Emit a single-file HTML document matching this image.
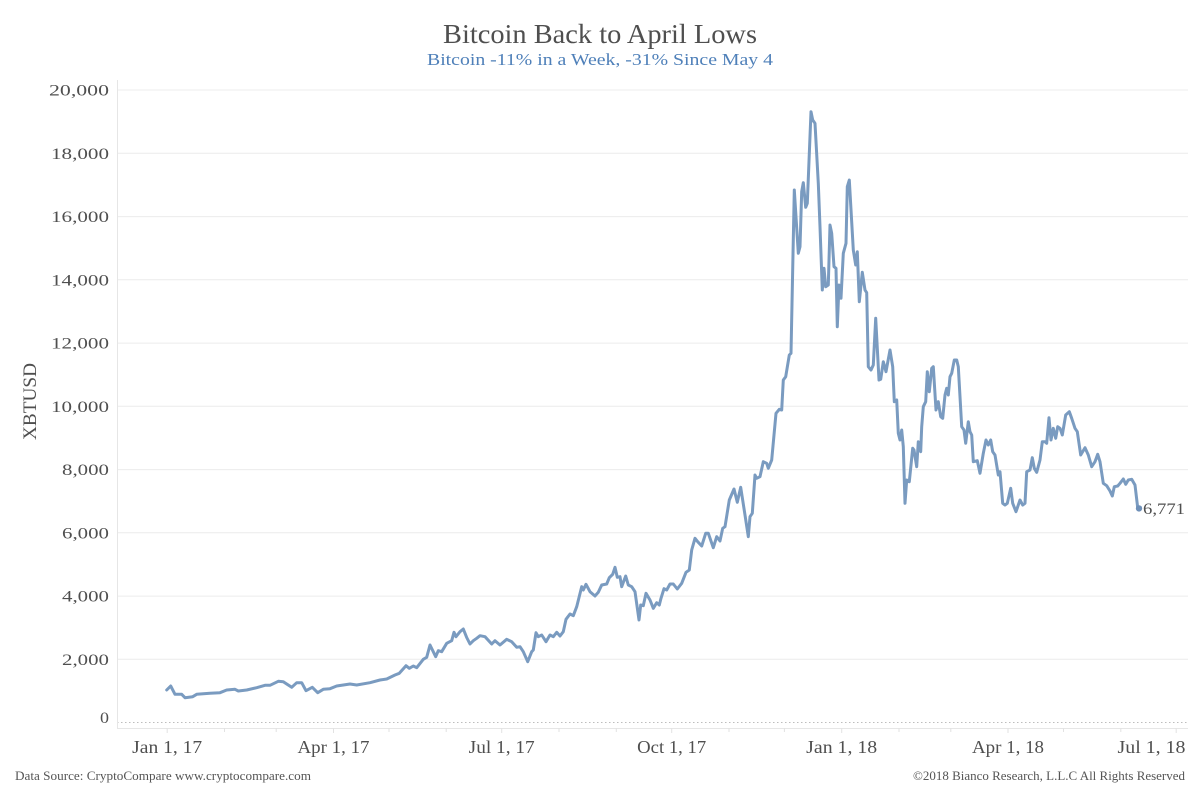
<!DOCTYPE html>
<html>
<head>
<meta charset="utf-8">
<style>
  html, body { margin:0; padding:0; background:#ffffff; }
  svg { display:block; }
  text { font-family: "Liberation Serif", "DejaVu Serif", serif; }
</style>
</head>
<body>
<svg width="1200" height="800" viewBox="0 0 1200 800" xmlns="http://www.w3.org/2000/svg">
  <rect x="0" y="0" width="1200" height="800" fill="#ffffff"/>

  <!-- Title -->
  <text x="600" y="43" text-anchor="middle" font-size="27" fill="#4f4f4f" textLength="314" lengthAdjust="spacingAndGlyphs">Bitcoin Back to April Lows</text>
  <text x="600" y="65" text-anchor="middle" font-size="16.5" fill="#4f80b9" textLength="346" lengthAdjust="spacingAndGlyphs">Bitcoin -11% in a Week, -31% Since May 4</text>

  <!-- Gridlines -->
  <g stroke="#ececec" stroke-width="1">
    <line x1="117" y1="90.0" x2="1188" y2="90.0"/>
    <line x1="117" y1="153.3" x2="1188" y2="153.3"/>
    <line x1="117" y1="216.6" x2="1188" y2="216.6"/>
    <line x1="117" y1="279.8" x2="1188" y2="279.8"/>
    <line x1="117" y1="343.1" x2="1188" y2="343.1"/>
    <line x1="117" y1="406.3" x2="1188" y2="406.3"/>
    <line x1="117" y1="469.6" x2="1188" y2="469.6"/>
    <line x1="117" y1="532.8" x2="1188" y2="532.8"/>
    <line x1="117" y1="596.1" x2="1188" y2="596.1"/>
    <line x1="117" y1="659.3" x2="1188" y2="659.3"/>
  </g>
  <!-- zero line dotted -->
  <line x1="117" y1="722.5" x2="1188" y2="722.5" stroke="#bdbdbd" stroke-width="1" stroke-dasharray="1.5,2.5"/>

  <!-- Axes borders -->
  <line x1="117.5" y1="80" x2="117.5" y2="728.5" stroke="#e6e6e6" stroke-width="1"/>
  <line x1="117" y1="728.5" x2="1188" y2="728.5" stroke="#e6e6e6" stroke-width="1"/>

  <!-- X ticks (monthly) -->
  <g stroke="#e2e2e2" stroke-width="1">
    <line x1="167.2" y1="728" x2="167.2" y2="733"/>
    <line x1="224.5" y1="728" x2="224.5" y2="732"/>
    <line x1="276.2" y1="728" x2="276.2" y2="732"/>
    <line x1="333.5" y1="728" x2="333.5" y2="733"/>
    <line x1="389.0" y1="728" x2="389.0" y2="732"/>
    <line x1="446.2" y1="728" x2="446.2" y2="732"/>
    <line x1="501.7" y1="728" x2="501.7" y2="733"/>
    <line x1="559.0" y1="728" x2="559.0" y2="732"/>
    <line x1="616.3" y1="728" x2="616.3" y2="732"/>
    <line x1="671.7" y1="728" x2="671.7" y2="733"/>
    <line x1="729.0" y1="728" x2="729.0" y2="732"/>
    <line x1="784.4" y1="728" x2="784.4" y2="732"/>
    <line x1="841.7" y1="728" x2="841.7" y2="733"/>
    <line x1="899.0" y1="728" x2="899.0" y2="732"/>
    <line x1="950.8" y1="728" x2="950.8" y2="732"/>
    <line x1="1008.0" y1="728" x2="1008.0" y2="733"/>
    <line x1="1063.5" y1="728" x2="1063.5" y2="732"/>
    <line x1="1120.8" y1="728" x2="1120.8" y2="732"/>
    <line x1="1176.2" y1="728" x2="1176.2" y2="733"/>
  </g>

  <!-- Y labels -->
  <g font-size="15.5" fill="#4f4f4f" text-anchor="end">
    <text x="109" y="95.5" textLength="60" lengthAdjust="spacingAndGlyphs">20,000</text>
    <text x="109" y="158.8" textLength="58" lengthAdjust="spacingAndGlyphs">18,000</text>
    <text x="109" y="222.1" textLength="58" lengthAdjust="spacingAndGlyphs">16,000</text>
    <text x="109" y="285.3" textLength="58" lengthAdjust="spacingAndGlyphs">14,000</text>
    <text x="109" y="348.6" textLength="58" lengthAdjust="spacingAndGlyphs">12,000</text>
    <text x="109" y="411.8" textLength="58" lengthAdjust="spacingAndGlyphs">10,000</text>
    <text x="109" y="475.1" textLength="47" lengthAdjust="spacingAndGlyphs">8,000</text>
    <text x="109" y="538.3" textLength="47" lengthAdjust="spacingAndGlyphs">6,000</text>
    <text x="109" y="601.6" textLength="47" lengthAdjust="spacingAndGlyphs">4,000</text>
    <text x="109" y="664.8" textLength="47" lengthAdjust="spacingAndGlyphs">2,000</text>
    <text x="109" y="723" textLength="9" lengthAdjust="spacingAndGlyphs">0</text>
  </g>

  <!-- Y axis title -->
  <text transform="translate(36,401.5) rotate(-90)" text-anchor="middle" font-size="19" fill="#4f4f4f" textLength="77" lengthAdjust="spacingAndGlyphs">XBTUSD</text>

  <!-- X labels -->
  <g font-size="18" fill="#4f4f4f" text-anchor="middle">
    <text x="167.2" y="753" textLength="70" lengthAdjust="spacingAndGlyphs">Jan 1, 17</text>
    <text x="333.5" y="753" textLength="72" lengthAdjust="spacingAndGlyphs">Apr 1, 17</text>
    <text x="501.7" y="753" textLength="66" lengthAdjust="spacingAndGlyphs">Jul 1, 17</text>
    <text x="671.7" y="753" textLength="69" lengthAdjust="spacingAndGlyphs">Oct 1, 17</text>
    <text x="841.7" y="753" textLength="71" lengthAdjust="spacingAndGlyphs">Jan 1, 18</text>
    <text x="1008.0" y="753" textLength="72" lengthAdjust="spacingAndGlyphs">Apr 1, 18</text>
  </g>
  <text x="1185.5" y="753" font-size="18" fill="#4f4f4f" text-anchor="end" textLength="68" lengthAdjust="spacingAndGlyphs">Jul 1, 18</text>

  <!-- Series -->
  <polyline fill="none" stroke="#7a9bc0" stroke-width="3" stroke-linejoin="round" stroke-linecap="round" points="
166.7,690 170.7,686 175,694.3 181.7,694.3 185,697.7 192.7,696.7 196.7,694.3 210,693.3 220,692.7 226.7,690 235,689.3 238.3,691 246.7,690 256.7,687.7 265,685.3 270,685.3 278.3,681.3 283.3,681.7 286.7,684 291.7,687.3 296.7,682.7 301.7,682.7 306,690.7 312.3,687.3 317.7,692.7 323.3,689.3 330,688.7 336.7,686 350,684 356.7,685 370,682.7 380,680 386.7,679 395,675 399.3,673.3 406,665.7 409.3,668.3 413.3,666 416.7,667.7 423.3,659.3 426.7,657.3 430,645 435.7,656.7 438.3,650.7 441.7,651.7 446.7,643.3 451.7,640.7 454,632.3 456,636.7 460,631.7 463.3,629 466.7,637.5 470,644
473.3,640.7 476.7,638.3 480,635.7 485,636.7 491.7,644 495,640.7 500,645 506.7,639.3 511.7,641.7 516.7,647.3 520,646.7 523.3,651.7 527.7,661.7 531.7,651.7 533.3,650 536,632.7 538.3,636.7 541.7,635 546,641.7 550,635 553.3,636.7 556.7,632.3 560,636 563.3,631.7 566,619.3 570,614 573.3,615.7 576.7,606.7 581.7,586.7 583.3,590 586,584.3 590,591.7 595,596 598.3,592.3 601.7,585 606.7,584 609.3,577.7 612.7,574.3 615,567.3 617.3,577.3 620,576.7 621.7,586.7 625.7,576 628.3,585 631.7,586.7 635,591.7 639,620 640.7,605 643.3,605.7 646,593.3 650,600 653.3,608.3 656.7,602.7 659.3,605 661,598.3 664,588.7 666.7,590 670,584 673.3,584 677.3,589 681.7,583.3 686,572.3 689.3,570 691.7,550 695,538.3 697.7,541.7 701.7,546 705.7,533.3 708.3,533.3 713.3,547.7 716.7,536.7 720,541 722.7,528.3 725,526.7 729.3,500 734,489 737.3,502.3 740.7,487.3 745,515 748.3,536.7 750,516.7 752.3,513.3 755,475 756.7,478.3
760,476.7 763.3,461.7 766.7,463.3 768.3,468.3 771.7,460 776,413.3 779.3,409.3 781.7,410 783.3,380 785.7,376.7 789.3,355 791,353.3 794.3,190 798.3,253.3 800,246.7 801.7,191.7 803.3,182.7 805.7,207.3 807.3,203.3 811,111.7 812.7,120 815,123.3 818.3,183.3 820,226.7 822.3,290 824,268.3 825.7,286.7 828.3,285 830,225 831.7,233.3 834,266.7 836,268.3 837.3,326.7 839,285 841,298.3 843.3,253.3 846,243.3 847.3,186.7 849.3,180 853.3,250 855.7,265 857.3,251.7 859.3,301.7 862.3,272.3 865,290 866.7,292.7 868.3,366.7 871,370 873.3,365 875.7,318.3 879,380 880.7,379.3 883.3,361.7 886,371.7 890,350 892.7,366.7 894.3,401.7 896.7,400 898.3,433.3
900,440 901.7,430 903.3,446.7 905,503.3 906.7,480 909.3,481.7 912.7,448.3 914,450 916.7,466.7 918.3,441.7 920.7,451.7 921.7,426.7 923.3,406.7 925.7,401.7 927.3,371.7 929.3,391.7 931.7,368.3 933.3,366.7 936,410 938.3,401.7 940.7,416.7 942.7,418.3 945,395 946.7,388.3 948.3,395 950,376.7 951.7,373.3 954.3,360 956.7,360 958.3,366.7 961.7,426.7 964,430 965.7,443.3 968.3,421.7 970,431.7 971.7,435 973.3,461.7 977.3,460.7 980,473.3 983.3,453.3 986,440 988.3,445 990.7,440 992.7,451.7 995,455 998.3,475 1000,471.7 1002.7,503.3 1005,505 1007.3,503.3 1010.7,488.3 1012.7,503.3 1016,511.7 1018.3,505 1020,500 1022.7,505 1025,503.3
1026.7,471.7 1030,470 1032.3,457.7 1034.3,468.3 1036.7,472.3 1040,460 1042.3,441.7 1045,441.7 1046.7,443.3 1049,417.7 1051,440 1053.3,428.3 1055.7,438.3 1057.7,426.7 1060,428.3 1062.3,435 1065.7,415 1069.3,411.7 1071.7,418.3 1075,428.3 1077.3,431.7 1080.7,455 1085,447.7 1088.3,455 1091.7,466.7 1095,461.7 1097.7,454.3 1100,461.7 1103.3,483.3 1106.7,485.7 1110,491 1112.3,496 1114.3,486.7 1117.7,486 1120,483.3 1123.3,479 1125.7,484.3 1128.3,480 1131.7,479.3 1135,485 1137.7,507.7 1139,508.4"/>

  <!-- End marker and label -->
  <circle cx="1139" cy="508.4" r="3.2" fill="#6f90b8"/>
  <text x="1143" y="514" font-size="16" fill="#4f4f4f" textLength="42" lengthAdjust="spacingAndGlyphs">6,771</text>

  <!-- Footer -->
  <text x="15" y="780" font-size="12.5" fill="#555555" textLength="296" lengthAdjust="spacingAndGlyphs">Data Source: CryptoCompare  www.cryptocompare.com</text>
  <text x="1185" y="780" font-size="12.5" fill="#555555" text-anchor="end" textLength="272" lengthAdjust="spacingAndGlyphs">©2018 Bianco Research, L.L.C  All Rights Reserved</text>
</svg>
</body>
</html>
